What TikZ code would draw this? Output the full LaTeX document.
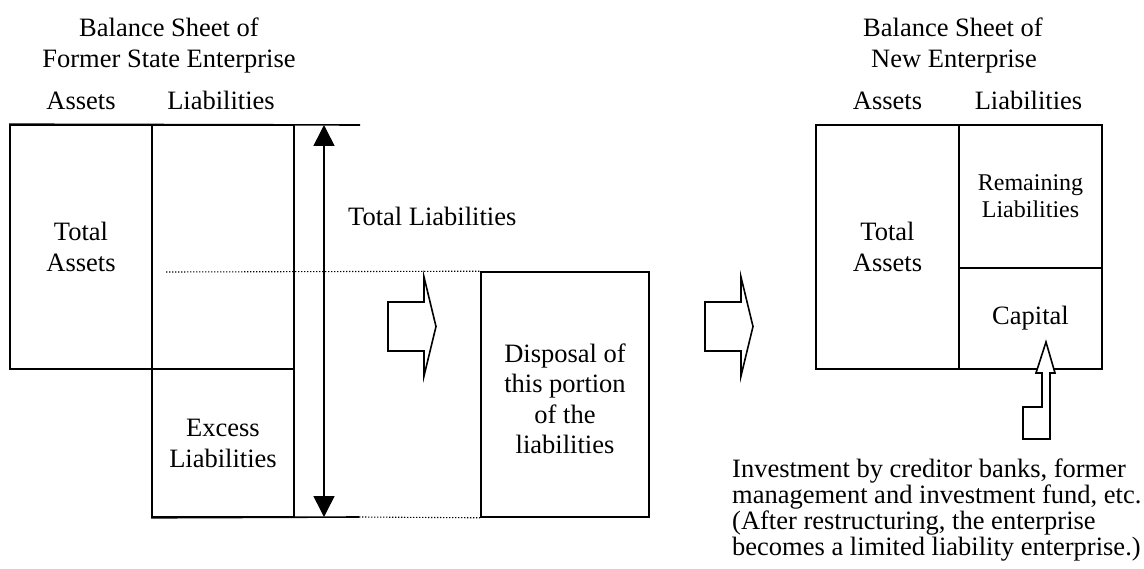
\documentclass[tikz,border=0pt]{standalone}
\usepackage{fontspec}
\setmainfont{Liberation Serif}
\usetikzlibrary{arrows.meta}

\newcommand{\mainsize}{\fontsize{26.5}{31}\selectfont}
\newcommand{\smallsize}{\fontsize{24}{27}\selectfont}

\tikzset{
  sheet/.style={draw, line width=1.6pt, inner sep=0pt, align=center, font=\mainsize},
  caption/.style={inner sep=0pt, font=\mainsize},
  rule/.style={line width=1.6pt},
  dots/.style={line width=1.1pt, dash pattern=on 1.4pt off 1.6pt},
  blockarrow/.style={draw, line width=1.6pt, line join=miter, fill=white},
  span/.style={line width=1.6pt, {Triangle[width=21pt,length=21pt]}-{Triangle[width=21pt,length=21pt]}},
}

\begin{document}
\begin{tikzpicture}[x=1pt, y=-1pt]
  \useasboundingbox (0,0) rectangle (1144,569);

  % ---- balance sheet of the former state enterprise ----
  \node[caption, anchor=base] (t1a) at (169,37) {Balance Sheet of};
  \node[caption, anchor=base] (t1b) at (169,68) {Former State Enterprise};
  \node[caption, anchor=base] (h1a) at (81,110) {Assets};
  \node[caption, anchor=base] (h1l) at (221,110) {Liabilities};

  \node[sheet, minimum width=142pt, minimum height=244pt] (oa) at (81,247) {Total\\Assets};
  \node[sheet, minimum width=142pt, minimum height=244pt] (ol) at (223,247) {};
  \node[sheet, minimum width=142pt, minimum height=148pt] (ox) at (223,443) {Excess\\Liabilities};

  \coordinate (topend) at (360,125);
  \coordinate (botend) at (359,517);
  \coordinate (dotstart) at (166,272);
  \draw[rule] (oa.north west) -- (topend);
  \draw[rule] (ox.south west) -- (botend);

  % total liabilities span
  \coordinate (spantop) at (324,125);
  \coordinate (spanbot) at (324,517);
  \draw[span] (spantop) -- (spanbot);
  \node[caption, anchor=base west] (tl) at (348,226) {Total Liabilities};

  % disposed portion (the strut lowers the text block a little)
  \node[sheet, minimum width=168pt, minimum height=245pt, font=\fontsize{26.5}{30.5}\selectfont] (dp) at (565,394.5)
    {\rule{0pt}{27pt}Disposal of\\this portion\\of the\\liabilities};
  \draw[dots] (dotstart) -- (dp.north west);
  \draw[dots] (botend) -- (dp.south west);

  % block arrows
  \draw[blockarrow] (388,302) -- (424,302) -- (424,277) -- (436,326.5) -- (424,376)
    -- (424,351) -- (388,351) -- cycle;
  \draw[blockarrow] (705,302) -- (741,302) -- (741,277) -- (753,326.5) -- (741,376)
    -- (741,351) -- (705,351) -- cycle;

  % ---- balance sheet of the new enterprise ----
  \node[caption, anchor=base] (t2a) at (953,37) {Balance Sheet of};
  \node[caption, anchor=base] (t2b) at (954,68) {New Enterprise};
  \node[caption, anchor=base] (h2a) at (887.5,110) {Assets};
  \node[caption, anchor=base] (h2l) at (1028.5,110) {Liabilities};

  \node[sheet, minimum width=143pt, minimum height=244pt] (na) at (887.5,247) {Total\\Assets};
  \node[sheet, minimum width=143pt, minimum height=143pt, font=\smallsize] (nr) at (1030.5,196.5) {Remaining\\Liabilities};
  \node[sheet, minimum width=143pt, minimum height=101pt] (nc) at (1030.5,318.5) {Capital};

  % investment into capital
  \draw[blockarrow] (1046,342) -- (1055,373) -- (1050,373) -- (1050,439) -- (1023,439)
    -- (1023,407) -- (1042,407) -- (1042,373) -- (1036,373) -- cycle;

  \node[caption, anchor=north west, align=left, font=\fontsize{26.5}{26}\selectfont] (note) at (732,459)
    {Investment by creditor banks, former\\
     management and investment fund, etc.\\
     (After restructuring, the enterprise\\
     becomes a limited liability enterprise.)};
\end{tikzpicture}
\end{document}
